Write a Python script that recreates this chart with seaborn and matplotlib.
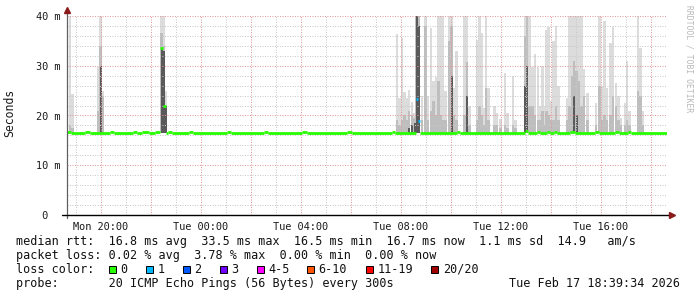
import numpy as np
import pandas as pd
import matplotlib
matplotlib.use("Agg")
import matplotlib.pyplot as plt
from matplotlib.patches import Rectangle
from matplotlib.ticker import FixedLocator, MultipleLocator
import seaborn as sns

# ---------------- data ----------------
# smoke columns (hours since Mon 00:00) and ping spread in ms
smoke_t = [18.78, 18.88, 19.92, 20.00, 20.08, 22.44, 22.52, 22.60,
           31.86, 31.96, 32.06, 32.16, 32.24, 32.34, 32.46, 32.56, 32.64, 32.74,
           32.86, 33.00, 33.10, 33.22, 33.32, 33.42, 33.52, 33.62, 33.70, 33.80,
           33.96, 34.04, 34.14, 34.24, 34.56, 34.66, 34.76, 35.06, 35.16, 35.24,
           35.32, 35.42, 35.52, 35.76, 35.86, 36.00, 36.18, 36.28, 36.50, 36.60,
           36.98, 37.06, 37.16, 37.28, 37.38, 37.50, 37.60, 37.68, 37.76, 37.84,
           37.92, 38.02, 38.12, 38.22, 38.32, 38.66, 38.76, 38.86, 38.94, 39.04,
           39.14, 39.24, 39.34, 39.48, 39.82, 39.96, 40.08, 40.16, 40.26, 40.40,
           40.50, 40.62, 40.72, 40.80, 40.98, 41.06, 41.16, 41.50, 41.60, 41.68]
smoke_hi = [42, 24.3, 29.7, 42, 25, 42, 42, 25,
            36.4, 23.5, 35.6, 24.8, 23.5, 25.2, 22.7, 20.5, 42, 42,
            24, 42, 24, 37.6, 27, 27.7, 42, 42, 42, 25,
            42, 42, 25.5, 33, 42, 42, 22, 35.2, 42, 36.5,
            21.5, 42, 25.5, 22, 20.5, 19.2, 28.5, 20.5, 28, 19,
            42, 42, 42, 29.7, 32.4, 29.7, 22, 30, 22, 37.2,
            37.8, 23, 35, 38, 26, 23.6, 42, 42, 42, 42,
            42, 42, 29.3, 24.5, 22.5, 42, 26, 38.9, 25.5, 34.5,
            37.8, 26.5, 24, 19.5, 22.5, 31, 21, 42, 33.5, 21]
smoke_mid = [18, 17.5, 21, 34, 24, 36.5, 34, 22,
             19, 18, 19, 20, 19, 21, 20, 19.5, 42, 42,
             19, 38, 19, 21, 23, 20, 27, 20, 19, 19,
             35, 38, 20, 19, 20, 30.7, 18, 19, 22, 20,
             18, 25.5, 19, 18, 18, 17.5, 18, 17.5, 18, 17.5,
             36, 42, 22, 22, 20, 19, 19, 21, 18, 21,
             20, 19, 19, 22, 19, 19, 22, 28, 31, 29,
             27, 22, 24, 19, 18, 26, 19, 20, 19, 20,
             24, 22, 19, 18, 18, 19, 18, 25, 24, 18]
smoke_lo = [0, 0, 0, 30, 0, 33.5, 33, 22,
            0, 0, 0, 0, 0, 17.5, 18, 18.5, 40, 38,
            0, 0, 0, 0, 0, 0, 0, 0, 0, 0,
            0, 28, 0, 0, 0, 24, 0, 0, 0, 0,
            0, 0, 0, 0, 0, 0, 0, 0, 0, 0,
            26, 30, 0, 0, 0, 0, 0, 0, 0, 0,
            0, 0, 0, 0, 0, 0, 0, 0, 24, 20,
            0, 0, 0, 0, 0, 0, 0, 0, 0, 0,
            0, 0, 0, 0, 0, 0, 0, 0, 0, 0]
smoke_floor = 16.4

# median rtt steps (start hour, value ms, loss count index)
med_t = [18.66, 18.80, 19.36, 19.56, 20.36, 20.56, 21.28, 21.44, 21.64, 21.92,
         22.16, 22.36, 22.40, 22.50, 22.60, 22.72, 22.88, 23.52, 23.72, 25.08,
         25.24, 26.52, 26.68, 28.04, 28.24, 29.84, 30.04, 31.64, 31.76, 32.62,
         32.70, 32.78, 34.24, 34.36, 36.96, 37.08, 37.44, 37.56, 37.84, 37.96,
         38.12, 38.24, 38.76, 38.96, 39.76, 39.92, 40.56, 40.72, 41.08, 41.20]
med_v = [16.75, 16.55, 16.75, 16.55, 16.75, 16.55, 16.75, 16.55, 16.75, 16.55,
         16.75, 16.55, 33.5, 22.0, 16.55, 16.75, 16.55, 16.75, 16.55, 16.75,
         16.55, 16.75, 16.55, 16.75, 16.55, 16.75, 16.55, 16.75, 16.55, 23.3,
         18.9, 16.55, 16.75, 16.55, 16.9, 16.55, 16.75, 16.55, 16.75, 16.55,
         16.75, 16.55, 16.75, 16.55, 16.75, 16.55, 16.75, 16.55, 16.75, 16.55]
med_loss = [0] * 29 + [1, 1] + [0] * 19
med_end = 42.64

x_range = (18.66, 42.66)
x_ticks = [20, 24, 28, 32, 36, 40]
x_labels = ["Mon 20:00", "Tue 00:00", "Tue 04:00", "Tue 08:00", "Tue 12:00", "Tue 16:00"]
y_ticks = [0, 10, 20, 30, 40]
y_labels = [" 0", "10 m", "20 m", "30 m", "40 m"]

loss_labels = ["0", "1", "2", "3", "4-5", "6-10", "11-19", "20/20"]
loss_colors = ["#26ff00", "#00b8ff", "#0059ff", "#7200ff", "#ff00ff", "#ff5500", "#ff0000", "#a10000"]

legend_lines = [
    "median rtt:  16.8 ms avg  33.5 ms max  16.5 ms min  16.7 ms now  1.1 ms sd  14.9   am/s",
    "packet loss: 0.02 % avg  3.78 % max  0.00 % min  0.00 % now",
    "loss color:",
    "probe:       20 ICMP Echo Pings (56 Bytes) every 300s",
]
stamp = "Tue Feb 17 18:39:34 2026"

# ---------------- style ----------------
sns.set_style("white")
plt.rcParams["font.family"] = ["DejaVu Sans Mono", "DejaVu Sans"]
plt.rcParams["axes.unicode_minus"] = False

W, H = 697, 297
fig = plt.figure(figsize=(W / 100, H / 100), dpi=100)
fig.patch.set_facecolor("white")
ax = fig.add_axes([67 / W, (H - 215) / H, 600 / W, 199 / H])
ax.set_facecolor("white")

st = np.array(smoke_t)
hi = np.array(smoke_hi, dtype=float)
mid = np.array(smoke_mid, dtype=float)
lo = np.array(smoke_lo, dtype=float)
bw = 0.1
ax.bar(st, hi - smoke_floor, bottom=smoke_floor, width=bw, color="#dcdcdc", linewidth=0, zorder=1)
m = mid > smoke_floor
ax.bar(st[m], mid[m] - smoke_floor, bottom=smoke_floor, width=bw * 0.9, color="#bebebe", linewidth=0, zorder=1.1)
m = lo > smoke_floor
ax.bar(st[m], lo[m] - smoke_floor, bottom=smoke_floor, width=bw * 0.8, color="#5a5a5a", linewidth=0, zorder=1.2)

# median line as per-step segments coloured by loss
rows = []
ends = med_t[1:] + [med_end]
for i, (t0, t1, v, l) in enumerate(zip(med_t, ends, med_v, med_loss)):
    rows.append(dict(seg=i, t=t0, v=v, loss=loss_labels[l]))
    rows.append(dict(seg=i, t=t1, v=v, loss=loss_labels[l]))
df = pd.DataFrame(rows)
sns.lineplot(data=df, x="t", y="v", units="seg", estimator=None, hue="loss",
             palette=dict(zip(loss_labels, loss_colors)), linewidth=2.0,
             legend=False, sort=False, ax=ax, zorder=3, solid_capstyle="butt")

ax.set_xlim(*x_range)
ax.set_ylim(0, 40)
ax.set_xlabel("")
ax.set_ylabel("")

# ticks / grid
major_x = np.arange(20, x_range[1], 2)
ax.xaxis.set_major_locator(FixedLocator(major_x))
lab_map = dict(zip(x_ticks, x_labels))
ax.set_xticklabels([lab_map.get(int(v), "") for v in major_x])
ax.xaxis.set_minor_locator(MultipleLocator(1))
ax.set_yticks(y_ticks)
ax.set_yticklabels(y_labels)
ax.yaxis.set_minor_locator(MultipleLocator(2))

dot = (0, (1, 1.5))
ax.grid(which="minor", color="#c8c8c8", linestyle=dot, linewidth=0.72)
ax.grid(which="major", color="#e49a9a", linestyle=dot, linewidth=0.72)
ax.set_axisbelow("line")

ax.tick_params(axis="x", which="major", length=2.2, width=0.7, color="#9a9a9a",
               pad=2.5, labelsize=7.4, labelcolor="#1a1a1a")
ax.tick_params(axis="x", which="minor", length=2.0, width=0.7, color="#c0c0c0")
ax.tick_params(axis="y", which="major", length=2.2, width=0.7, color="#9a9a9a",
               pad=20.1, labelsize=7.4, labelcolor="#1a1a1a")
ax.tick_params(axis="y", which="minor", length=2.0, width=0.7, color="#c0c0c0")
for lbl in ax.get_yticklabels():
    lbl.set_horizontalalignment("left")

for s in ax.spines.values():
    s.set_visible(False)
ax.plot([0, 0], [-0.015, 1.03], transform=ax.transAxes, color="#606060", lw=0.9, clip_on=False, zorder=5)
ax.plot([-0.008, 1.008], [0, 0], transform=ax.transAxes, color="#000000", lw=1.0, clip_on=False, zorder=5)
ax.plot([0], [1.03], transform=ax.transAxes, marker="^", ms=4.5, color="#8b1a1a", clip_on=False, zorder=6)
ax.plot([1.009], [0], transform=ax.transAxes, marker=">", ms=4.5, color="#8b1a1a", clip_on=False, zorder=6)

# texts
fig.text(10 / W, 1 - 113 / H, "Seconds", rotation=90, ha="center", va="center",
         fontsize=8.3, color="#1a1a1a")
fig.text(688.5 / W, 1 - 59 / H, "RRDTOOL / TOBI OETIKER", rotation=270, ha="center", va="center",
         fontsize=5.8, color="#b8b8b8")

baselines = [245, 259, 273, 287]
for txt, yb in zip(legend_lines, baselines):
    fig.text(16 / W, 1 - yb / H, txt, ha="left", va="baseline", fontsize=8.5, color="#111111")
fig.text(680 / W, 1 - baselines[3] / H, stamp, ha="right", va="baseline", fontsize=8.5, color="#111111")

box_left = [108.5, 145.5, 182.5, 219.5, 256.5, 306.5, 365.5, 431]
for lab, col, bx in zip(loss_labels, loss_colors, box_left):
    fig.patches.append(Rectangle((bx / W, 1 - 272.5 / H), 7 / W, 7 / H, transform=fig.transFigure,
                                 facecolor=col, edgecolor="black", linewidth=0.7, figure=fig))
    fig.text((bx + 12) / W, 1 - baselines[2] / H, lab, ha="left", va="baseline", fontsize=8.5, color="#111111")

fig.savefig("out.png", dpi=100)
